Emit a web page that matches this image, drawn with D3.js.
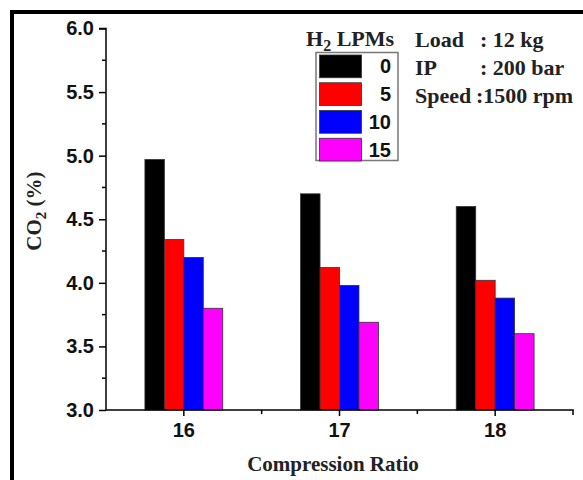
<!DOCTYPE html>
<html>
<head>
<meta charset="utf-8">
<script src="https://cdn.jsdelivr.net/npm/d3@7/dist/d3.min.js"></script>
<style>
  html, body { margin: 0; padding: 0; background: #fff; }
  svg { display: block; }
</style>
</head>
<body>
<svg id="chart" width="583" height="480"></svg>
<script>
// Compression ratios on the x axis
const categories = ["16", "17", "18"];
// Hydrogen flow rates (LPM), one bar per rate in each group
const series = ["0", "5", "10", "15"];
const seriesColors = ["#000000", "#ff0000", "#0000ff", "#ff00ff"];
// CO2 (%) per compression ratio, for each hydrogen flow rate
const values0 = [4.97, 4.70, 4.60];
const values5 = [4.34, 4.12, 4.02];
const values10 = [4.20, 3.98, 3.88];
const values15 = [3.80, 3.69, 3.60];
const yTicks = [3.0, 3.5, 4.0, 4.5, 5.0, 5.5, 6.0];
const conditions = [
  ["Load", ": 12 kg"],
  ["IP", ": 200 bar"],
  ["Speed", ":1500 rpm"]
];

const allValues = [values0, values5, values10, values15];
const svg = d3.select("#chart");
const sans = "Liberation Sans, Arial, sans-serif";
const serif = "Liberation Serif, Times New Roman, serif";

// outer frame (top and left edges)
svg.append("path")
  .attr("d", "M12,480 V12 H583")
  .attr("fill", "none")
  .attr("stroke", "#000")
  .attr("stroke-width", 4);

const plot = { left: 106, right: 573, top: 28.5, bottom: 410 };

const x = d3.scaleBand()
  .domain(categories)
  .range([plot.left, plot.right])
  .paddingInner(0.5)
  .paddingOuter(0.25);

const xs = d3.scaleBand()
  .domain(series)
  .range([0, x.bandwidth()]);

const y = d3.scaleLinear()
  .domain([3.0, 6.0])
  .range([plot.bottom, plot.top]);

// bars
const groups = svg.append("g")
  .selectAll("g")
  .data(categories)
  .join("g")
  .attr("transform", d => `translate(${x(d)},0)`);

groups.selectAll("rect")
  .data((c, ci) => series.map((s, si) => ({ s, si, v: allValues[si][ci] })))
  .join("rect")
  .attr("x", d => xs(d.s))
  .attr("width", xs.bandwidth())
  .attr("y", d => y(d.v))
  .attr("height", d => y(3.0) - y(d.v))
  .attr("fill", d => seriesColors[d.si])
  .attr("stroke", "#333")
  .attr("stroke-width", 0.8);

// y axis
const yAxis = svg.append("g")
  .attr("transform", `translate(${plot.left},0)`)
  .call(d3.axisLeft(y).tickValues(yTicks).tickFormat(d3.format(".1f")).tickSize(7).tickPadding(5));
yAxis.select(".domain").attr("stroke-width", 1.5).attr("d", `M-7,${plot.top}H0V${plot.bottom}`);
yAxis.selectAll(".tick line").attr("stroke-width", 1.5);
yAxis.selectAll("text")
  .attr("font-family", sans)
  .attr("font-weight", "bold")
  .attr("font-size", 20)
  .attr("fill", "#111");

// y minor ticks
const yMinor = d3.range(3.25, 6.0, 0.5);
svg.append("g")
  .selectAll("line")
  .data(yMinor)
  .join("line")
  .attr("x1", plot.left - 4)
  .attr("x2", plot.left)
  .attr("y1", d => y(d))
  .attr("y2", d => y(d))
  .attr("stroke", "#000")
  .attr("stroke-width", 1.5);

// x axis
const xAxis = svg.append("g")
  .attr("transform", `translate(0,${plot.bottom})`)
  .call(d3.axisBottom(x).tickSize(6).tickPadding(7));
xAxis.select(".domain").attr("stroke-width", 1.5).attr("d", `M${plot.left},0H${plot.right}V5`);
xAxis.selectAll(".tick line").attr("stroke-width", 1.5);
xAxis.selectAll("text")
  .attr("font-family", sans)
  .attr("font-weight", "bold")
  .attr("font-size", 20)
  .attr("fill", "#111");

// x minor ticks between groups
const xMinor = categories.slice(1).map((c, i) =>
  (x(categories[i]) + x.bandwidth() / 2 + x(c) + x.bandwidth() / 2) / 2);
svg.append("g")
  .selectAll("line")
  .data(xMinor)
  .join("line")
  .attr("x1", d => d).attr("x2", d => d)
  .attr("y1", plot.bottom).attr("y2", plot.bottom + 4)
  .attr("stroke", "#000")
  .attr("stroke-width", 1.5);

// axis titles
svg.append("text")
  .attr("x", 333)
  .attr("y", 471)
  .attr("text-anchor", "middle")
  .attr("font-family", serif)
  .attr("font-weight", "bold")
  .attr("font-size", 21)
  .attr("fill", "#222")
  .text("Compression Ratio");

const yTitle = svg.append("text")
  .attr("transform", `translate(41,211) rotate(-90)`)
  .attr("text-anchor", "middle")
  .attr("font-family", serif)
  .attr("font-weight", "bold")
  .attr("font-size", 21)
  .attr("fill", "#222");
yTitle.append("tspan").text("CO");
yTitle.append("tspan").attr("font-size", 15).attr("dy", 5).text("2");
yTitle.append("tspan").attr("dy", -5).text(" (%)");

// legend
const legend = svg.append("g");
const legTitle = legend.append("text")
  .attr("x", 306)
  .attr("y", 46)
  .attr("font-family", serif)
  .attr("font-weight", "bold")
  .attr("font-size", 22)
  .attr("fill", "#222");
legTitle.append("tspan").text("H");
legTitle.append("tspan").attr("font-size", 16).attr("dy", 5).text("2");
legTitle.append("tspan").attr("dy", -5).text(" LPMs");

legend.append("rect")
  .attr("x", 316).attr("y", 52.5)
  .attr("width", 82).attr("height", 108)
  .attr("fill", "#fff")
  .attr("stroke", "#777")
  .attr("stroke-width", 1.5);

const legRow = d3.scaleBand().domain(series).range([55, 161]).paddingInner(0.18);
series.forEach((s, i) => {
  legend.append("rect")
    .attr("x", 319.5)
    .attr("y", legRow(s))
    .attr("width", 42)
    .attr("height", legRow.bandwidth())
    .attr("fill", seriesColors[i])
    .attr("stroke", "#333")
    .attr("stroke-width", 0.8);
  legend.append("text")
    .attr("x", 391)
    .attr("y", legRow(s) + legRow.bandwidth() / 2 + 7)
    .attr("text-anchor", "end")
    .attr("font-family", sans)
    .attr("font-weight", "bold")
    .attr("font-size", 20)
    .attr("fill", "#111")
    .text(s);
});

// operating conditions
conditions.forEach((c, i) => {
  const t = svg.append("text")
    .attr("y", 47 + i * 28)
    .attr("font-family", serif)
    .attr("font-weight", "bold")
    .attr("font-size", 22)
    .attr("fill", "#222");
  t.append("tspan").attr("x", 415).text(c[0]);
  t.append("tspan").attr("x", i === 2 ? 476 : 480).text(c[1]);
});
</script>
</body>
</html>
